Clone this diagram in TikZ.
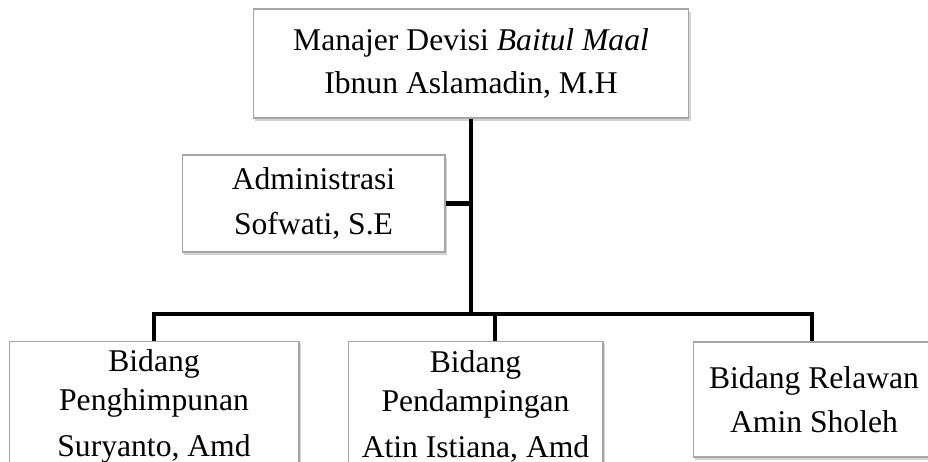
\documentclass[tikz,border=0pt]{standalone}
\usepackage{fontspec}
\setmainfont{Liberation Serif}
\usetikzlibrary{positioning,shadows}

\begin{document}
\begin{tikzpicture}[x=0.02cm, y=-0.02cm,
    every node/.style={font=\fontsize{18}{22}\selectfont, align=center},
    unitbox/.style={draw=gray!70, line width=0.6pt, fill=white, inner sep=0pt,
      drop shadow={shadow xshift=1pt, shadow yshift=-1.5pt, opacity=0.35, fill=gray}},
    conn/.style={line width=2.3pt}]
      \path[use as bounding box] (0,0) rectangle (928,461);
      \clip (0,0) rectangle (928,461);
      \node[unitbox, minimum width=8.72cm, minimum height=2.18cm] (manajer) at (471,63.5)
        {Manajer Devisi \textit{Baitul Maal}\\[2.3pt]Ibnun Aslamadin, M.H};
      \node[unitbox, minimum width=5.26cm, minimum height=1.94cm] (admin) at (313.5,203.5)
        {Administrasi\\[4pt]Sofwati, S.E};
      \node[unitbox, minimum width=5.8cm, minimum height=2.62cm] (himpun) at (154,406.5)
        {Bidang\\[0.5pt]Penghimpunan\\[4pt]Suryanto, Amd};
      \node[unitbox, minimum width=5.1cm, minimum height=2.62cm] (damping) at (475.5,406.5)
        {Bidang\\[0.5pt]Pendampingan\\[4pt]Atin Istiana, Amd};
      \node[unitbox, minimum width=4.84cm, minimum height=2.3cm] (relawan) at (814,399.5)
        {Bidang Relawan\\[3pt]Amin Sholeh};
      % garis penghubung
      \coordinate (cabang) at (471,314);
      \coordinate (turun) at ([xshift=0.39cm]damping.north);
      \draw[conn] (manajer.south) -- (cabang);
      \draw[conn] (admin.east) -- (admin.east -| cabang);
      \draw[conn] (himpun.north) |- (cabang) -| ([xshift=-0.04cm]relawan.north);
      \draw[conn] (turun) -- (turun |- cabang);
    \end{tikzpicture}
\end{document}
